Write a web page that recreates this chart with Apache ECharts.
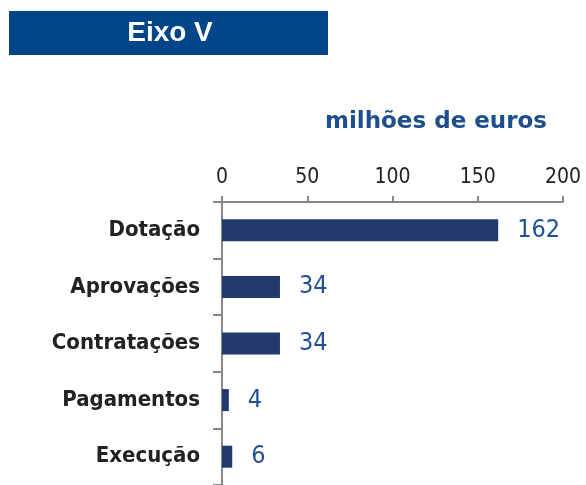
<!DOCTYPE html>
<html>
<head>
<meta charset="utf-8">
<script src="https://cdn.jsdelivr.net/npm/echarts@6/dist/echarts.min.js"></script>
<style>
  html, body { margin: 0; padding: 0; background: #fff; }
  #chart { width: 586px; height: 485px; }
</style>
</head>
<body>
<div id="chart"></div>
<script>
  const categories = ['Dotação', 'Aprovações', 'Contratações', 'Pagamentos', 'Execução']
  const values = [162, 34, 34, 4, 6]
  const tickValues = [0, 50, 100, 150, 200]

  const chart = echarts.init(document.getElementById('chart'))
  chart.setOption({
    animation: false,
    graphic: [
      {
        type: 'rect',
        shape: { x: 9, y: 11, width: 319, height: 44 },
        style: { fill: '#00448A' }
      },
      {
        type: 'text',
        x: 170,
        y: 33,
        style: {
          text: 'Eixo V',
          fill: '#fff',
          font: 'bold 28px "Liberation Sans", Arial, sans-serif',
          align: 'center',
          verticalAlign: 'middle'
        }
      },
      {
        type: 'text',
        x: 436,
        y: 122,
        style: {
          text: 'milhões de euros',
          fill: '#1F4E8C',
          font: 'bold 23px "DejaVu Sans", sans-serif',
          align: 'center',
          verticalAlign: 'middle'
        }
      }
    ],
    grid: {
      left: 222,
      right: 23,
      top: 202,
      height: 290
    },
    xAxis: {
      type: 'value',
      position: 'top',
      min: tickValues[0],
      max: tickValues[tickValues.length - 1],
      interval: 50,
      splitLine: { show: false },
      axisLine: { show: true, lineStyle: { color: '#888', width: 2 } },
      axisTick: { show: true, length: 6, lineStyle: { color: '#888', width: 2 } },
      axisLabel: {
        color: '#222',
        fontSize: 21,
        fontFamily: '"DejaVu Sans Condensed", sans-serif',
        margin: 14
      }
    },
    yAxis: {
      type: 'category',
      inverse: true,
      data: categories,
      axisLine: { show: true, lineStyle: { color: '#888', width: 2 } },
      axisTick: { show: true, length: 9, lineStyle: { color: '#888', width: 2 } },
      axisLabel: {
        color: '#222',
        fontSize: 22,
        fontWeight: 'bold',
        fontFamily: '"DejaVu Sans Condensed", "DejaVu Sans", sans-serif',
        margin: 22
      }
    },
    series: [
      {
        type: 'bar',
        data: values,
        barWidth: 22,
        itemStyle: { color: '#233A70' },
        label: {
          show: true,
          position: 'right',
          distance: 19,
          color: '#1F5096',
          fontSize: 25,
          fontFamily: '"DejaVu Sans Condensed", sans-serif'
        }
      }
    ]
  })
</script>
</body>
</html>
